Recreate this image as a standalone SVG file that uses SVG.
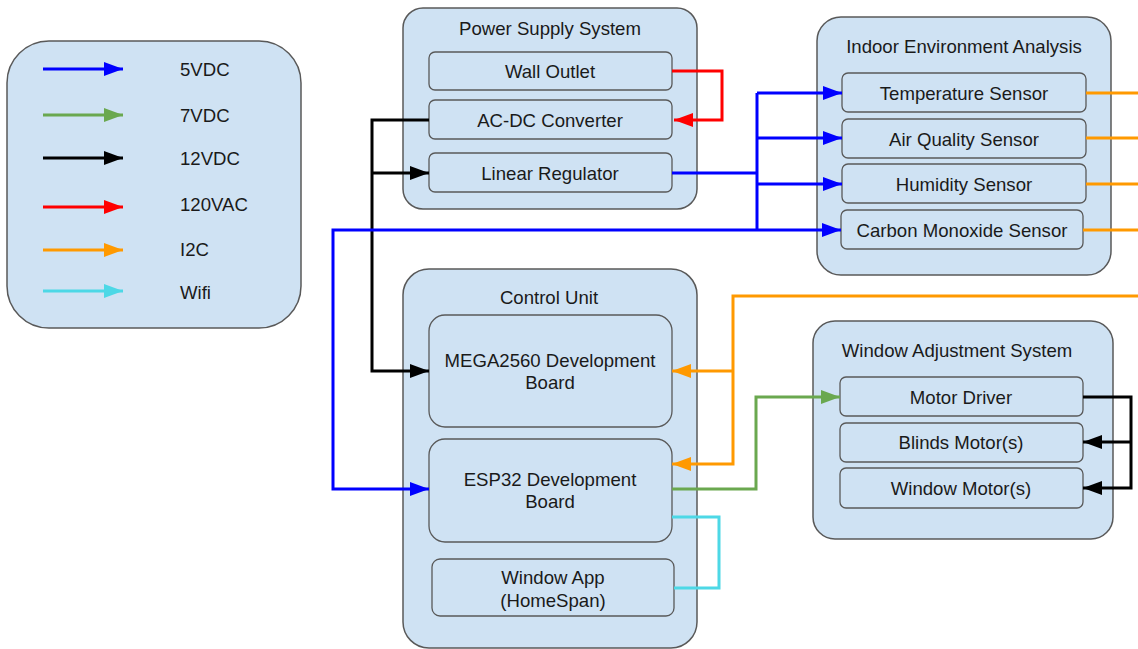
<svg xmlns="http://www.w3.org/2000/svg" width="1138" height="649" viewBox="0 0 1138 649">
  <style>
    .box { fill: #cfe2f3; stroke: #595959; stroke-width: 1.5; }
    .item { fill: #cfe2f3; stroke: #595959; stroke-width: 1.3; }
    text { font-family: "Liberation Sans", Arial, sans-serif; font-size: 18.6px; fill: #1a1a1a; }
    .c { text-anchor: middle; }
    .w { fill: none; stroke-width: 3; stroke-linejoin: miter; }
    .blue { stroke: #0000ff; }
    .green { stroke: #6aa84f; }
    .black { stroke: #000000; }
    .red { stroke: #ff0000; }
    .orange { stroke: #ff9900; }
    .cyan { stroke: #4dd8e6; }
  </style>
  <defs>
    <marker id="ah-blue" markerUnits="userSpaceOnUse" markerWidth="20" markerHeight="16" refX="19" refY="8" orient="auto"><path d="M0,1 L19,8 L0,15 Z" fill="#0000ff"/></marker>
    <marker id="ah-green" markerUnits="userSpaceOnUse" markerWidth="20" markerHeight="16" refX="19" refY="8" orient="auto"><path d="M0,1 L19,8 L0,15 Z" fill="#6aa84f"/></marker>
    <marker id="ah-black" markerUnits="userSpaceOnUse" markerWidth="20" markerHeight="16" refX="19" refY="8" orient="auto"><path d="M0,1 L19,8 L0,15 Z" fill="#000000"/></marker>
    <marker id="ah-red" markerUnits="userSpaceOnUse" markerWidth="20" markerHeight="16" refX="19" refY="8" orient="auto"><path d="M0,1 L19,8 L0,15 Z" fill="#ff0000"/></marker>
    <marker id="ah-orange" markerUnits="userSpaceOnUse" markerWidth="20" markerHeight="16" refX="19" refY="8" orient="auto"><path d="M0,1 L19,8 L0,15 Z" fill="#ff9900"/></marker>
    <marker id="ah-cyan" markerUnits="userSpaceOnUse" markerWidth="20" markerHeight="16" refX="19" refY="8" orient="auto"><path d="M0,1 L19,8 L0,15 Z" fill="#4dd8e6"/></marker>
  </defs>

  <!-- Legend -->
  <g id="legend">
    <rect class="box" x="7" y="41" width="294" height="287" rx="42"/>
    <line class="w blue" x1="43" y1="69" x2="123" y2="69" marker-end="url(#ah-blue)"/>
    <line class="w green" x1="43" y1="115" x2="123" y2="115" marker-end="url(#ah-green)"/>
    <line class="w black" x1="43" y1="158" x2="123" y2="158" marker-end="url(#ah-black)"/>
    <line class="w red" x1="43" y1="207" x2="123" y2="207" marker-end="url(#ah-red)"/>
    <line class="w orange" x1="43" y1="250" x2="123" y2="250" marker-end="url(#ah-orange)"/>
    <line class="w cyan" x1="43" y1="291" x2="123" y2="291" marker-end="url(#ah-cyan)"/>
    <text x="180" y="76">5VDC</text>
    <text x="180" y="122">7VDC</text>
    <text x="180" y="165">12VDC</text>
    <text x="180" y="211">120VAC</text>
    <text x="180" y="256">I2C</text>
    <text x="180" y="299">Wifi</text>
  </g>

  <!-- Power Supply System -->
  <g id="power-supply">
    <rect class="box" x="403" y="8" width="294" height="201" rx="20"/>
    <text class="c" x="550" y="35">Power Supply System</text>
  </g>
  <g id="wall-outlet">
    <rect class="item" x="429" y="52" width="243" height="38" rx="6"/>
    <text class="c" x="550" y="78">Wall Outlet</text>
  </g>
  <g id="acdc-converter">
    <rect class="item" x="429" y="100" width="243" height="39" rx="6"/>
    <text class="c" x="550" y="127">AC-DC Converter</text>
  </g>
  <g id="linear-regulator">
    <rect class="item" x="429" y="153" width="243" height="39" rx="6"/>
    <text class="c" x="550" y="180">Linear Regulator</text>
  </g>

  <!-- Indoor Environment Analysis -->
  <g id="indoor-environment">
    <rect class="box" x="817" y="17" width="294" height="258" rx="24"/>
    <text class="c" x="964" y="53">Indoor Environment Analysis</text>
  </g>
  <g id="temperature-sensor">
    <rect class="item" x="842" y="73" width="244" height="39" rx="6"/>
    <text class="c" x="964" y="100">Temperature Sensor</text>
  </g>
  <g id="air-quality-sensor">
    <rect class="item" x="842" y="119" width="244" height="39" rx="6"/>
    <text class="c" x="964" y="146">Air Quality Sensor</text>
  </g>
  <g id="humidity-sensor">
    <rect class="item" x="842" y="164" width="244" height="39" rx="6"/>
    <text class="c" x="964" y="191">Humidity Sensor</text>
  </g>
  <g id="co-sensor">
    <rect class="item" x="841" y="210" width="242" height="39" rx="6"/>
    <text class="c" x="962" y="237">Carbon Monoxide Sensor</text>
  </g>

  <!-- Control Unit -->
  <g id="control-unit">
    <rect class="box" x="403" y="269" width="294" height="379" rx="26"/>
    <text class="c" x="549" y="304">Control Unit</text>
  </g>
  <g id="mega2560">
    <rect class="item" x="429" y="315" width="243" height="112" rx="16"/>
    <text class="c" x="550" y="367">MEGA2560 Development</text>
    <text class="c" x="550" y="389">Board</text>
  </g>
  <g id="esp32">
    <rect class="item" x="429" y="439" width="243" height="103" rx="16"/>
    <text class="c" x="550" y="486">ESP32 Development</text>
    <text class="c" x="550" y="508">Board</text>
  </g>
  <g id="window-app">
    <rect class="item" x="432" y="559" width="242" height="57" rx="8"/>
    <text class="c" x="553" y="584">Window App</text>
    <text class="c" x="553" y="607">(HomeSpan)</text>
  </g>

  <!-- Window Adjustment System -->
  <g id="window-adjustment">
    <rect class="box" x="813" y="321" width="300" height="218" rx="22"/>
    <text class="c" x="957" y="357">Window Adjustment System</text>
  </g>
  <g id="motor-driver">
    <rect class="item" x="840" y="377" width="243" height="39" rx="6"/>
    <text class="c" x="961" y="404">Motor Driver</text>
  </g>
  <g id="blinds-motor">
    <rect class="item" x="840" y="423" width="243" height="39" rx="6"/>
    <text class="c" x="961" y="449">Blinds Motor(s)</text>
  </g>
  <g id="window-motor">
    <rect class="item" x="840" y="468" width="243" height="40" rx="6"/>
    <text class="c" x="961" y="495">Window Motor(s)</text>
  </g>

  <!-- Connectors -->
  <g id="connectors">
    <!-- 120VAC: outlet to converter -->
    <polyline class="w red" points="672,71 722,71 722,120 674,120" marker-end="url(#ah-red)"/>
    <!-- 12VDC: converter to regulator and MEGA -->
    <polyline class="w black" points="429,120 372,120 372,371 429,371" marker-end="url(#ah-black)"/>
    <polyline class="w black" points="372,173 429,173" marker-end="url(#ah-black)"/>
    <!-- 5VDC: regulator to sensors and ESP32 -->
    <polyline class="w blue" points="672,173 757,173"/>
    <polyline class="w blue" points="757,93 757,230"/>
    <polyline class="w blue" points="757,93 842,93" marker-end="url(#ah-blue)"/>
    <polyline class="w blue" points="757,138 842,138" marker-end="url(#ah-blue)"/>
    <polyline class="w blue" points="757,184 842,184" marker-end="url(#ah-blue)"/>
    <polyline class="w blue" points="757,230 841,230" marker-end="url(#ah-blue)"/>
    <polyline class="w blue" points="757,230 333,230 333,489 429,489" marker-end="url(#ah-blue)"/>
    <!-- I2C: sensors bus to boards -->
    <line class="w orange" x1="1086" y1="93" x2="1138" y2="93"/>
    <line class="w orange" x1="1086" y1="138" x2="1138" y2="138"/>
    <line class="w orange" x1="1086" y1="184" x2="1138" y2="184"/>
    <line class="w orange" x1="1083" y1="230" x2="1138" y2="230"/>
    <polyline class="w orange" points="1138,296 733,296 733,464 672,464" marker-end="url(#ah-orange)"/>
    <polyline class="w orange" points="733,371 672,371" marker-end="url(#ah-orange)"/>
    <!-- 7VDC: ESP32 to motor driver -->
    <polyline class="w green" points="672,489 756,489 756,397 840,397" marker-end="url(#ah-green)"/>
    <!-- Wifi: ESP32 and app -->
    <polyline class="w cyan" points="672,517 719,517 719,588 674,588"/>
    <!-- Motor driver outputs -->
    <polyline class="w black" points="1083,397 1131,397 1131,488 1083,488" marker-end="url(#ah-black)"/>
    <polyline class="w black" points="1131,442 1083,442" marker-end="url(#ah-black)"/>
  </g>
</svg>
